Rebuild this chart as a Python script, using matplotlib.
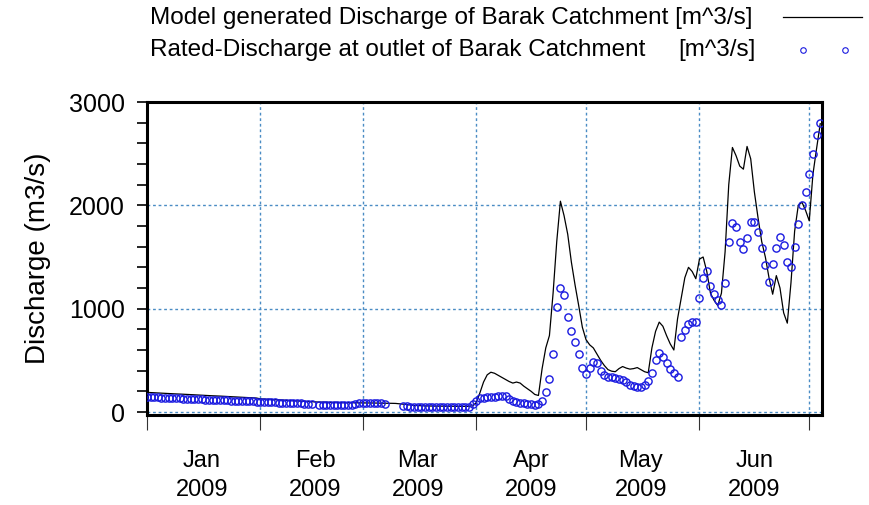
import numpy as np
import matplotlib
matplotlib.use("Agg")
import matplotlib.pyplot as plt
import matplotlib.dates as mdates
from matplotlib.lines import Line2D
from matplotlib.ticker import MultipleLocator

plt.rcParams['font.family'] = ['Liberation Sans', 'DejaVu Sans']

# daily series starting 2009-01-01
start_date = '2009-01-01'

# model generated discharge [m3/s]
model_q = [
    # Jan
    190, 188, 186, 184, 183, 181, 179, 177, 175, 174, 172, 170, 168, 166, 165, 163,
    161, 159, 157, 156, 154, 152, 150, 148, 146, 145, 143, 141, 139, 137, 135,
    # Feb
    127, 125, 123, 121, 119, 117, 115, 113, 111, 109, 107, 105, 103, 101, 99, 97,
    96, 95, 94, 93, 92, 92, 91, 91, 90, 90, 89, 89,
    # Mar
    88, 88, 87, 87, 86, 86, 85, 85, 84, 83, 80, 76, 72, 68, 64, 62,
    60, 59, 58, 58, 57, 57, 56, 56, 56, 55, 55, 55, 55, 55, 60,
    # Apr
    90, 185, 290, 360, 385, 375, 355, 335, 315, 295, 280, 290, 280, 250, 225,
    200, 170, 160, 420, 620, 740, 1150, 1650, 2040, 1900, 1720, 1450, 1230, 1030, 820,
    # May
    700, 650, 620, 560, 500, 450, 410, 395, 390, 420, 440, 425, 415, 420, 430, 410,
    390, 380, 620, 780, 870, 830, 740, 660, 600, 900, 1100, 1300, 1400, 1360, 1290,
    # Jun
    1480, 1500, 1360, 1150, 1080, 1030, 1150, 1550, 2200, 2560, 2480, 2380, 2350, 2570, 2450,
    2130, 1880, 1650, 1500, 1300, 1140, 1320, 1200, 960, 860, 1250, 1750, 2000, 2030, 1950,
    # Jul
    1850, 2300, 2550, 2790,
]

nan = np.nan
# rated discharge at the outlet [m3/s], nan = no reading
rated_q = [
    # Jan
    145, 144, 142, 141, 139, 138, 136, 135, 133, 132, 130, 129, 127, 126, 124, 123,
    121, 120, 118, 117, 115, 114, 112, 111, 109, 108, 106, 105, 103, 102, 100,
    # Feb
    98, 97, 96, 94, 93, 92, 90, 89, 88, 86, 85, 84, 82, 80, 78, nan,
    70, 70, 69, 69, 68, 68, 68, 67, 67, 72, 82, 85,
    # Mar
    86, 86, 85, 85, 84, 83, 82, nan, nan, nan, nan,
    55, 54, 53, 52, 52, 51, 50, 50, 49, 48, 48, 47, 47, 46, 46, 45, 45, 46, 50, 75,
    # Apr
    110, 136, 140, 145, 148, 150, 152, 155, 155, 125, 110, 100, 90, 85, 80,
    75, 70, 80, 110, 190, 320, 560, 1020, 1200, 1130, 920, 780, 680, 560, 430,
    # May
    365, 430, 485, 470, 400, 360, 340, 335, 330, 320, 310, 290, 265, 255, 245, 243,
    265, 300, 380, 505, 573, 530, 470, 420, 375, 340, 730, 796, 850, 874, 874,
    # Jun
    1100, 1300, 1360, 1220, 1140, 1080, 1040, 1250, 1650, 1830, 1790, 1650, 1575, 1680, 1840,
    1835, 1740, 1590, 1420, 1260, 1430, 1590, 1690, 1620, 1450, 1400, 1600, 1820, 2000, 2130,
    # Jul
    2300, 2500, 2680, 2800,
]

model_dates = np.datetime64(start_date) + np.arange(len(model_q))
rated_dates = np.datetime64(start_date) + np.arange(len(rated_q))

fig = plt.figure(figsize=(8.69, 5.05), dpi=100)
ax = fig.add_axes([0.169, 0.178, 0.777, 0.620])

grid_col = '#4a8cc4'
ax.grid(True, which='major', color=grid_col, linestyle=(0, (2, 2)), linewidth=1.0, zorder=0)

obs_col = '#1a1ae0'
ax.plot(model_dates, model_q, color='black', linewidth=0.9, zorder=3)
ax.plot(rated_dates, rated_q, linestyle='none', marker='o', markersize=5.2,
        markerfacecolor='none', markeredgecolor=obs_col, markeredgewidth=1.0, zorder=4)

ax.set_xlim(np.datetime64('2009-01-01T00'), np.datetime64('2009-07-04T12'))
ax.set_ylim(-30, 3000)

# month boundaries get tick marks, month names sit mid-month
ax.xaxis.set_major_locator(mdates.MonthLocator())
ax.xaxis.set_major_formatter(plt.NullFormatter())
ax.xaxis.set_minor_locator(mdates.MonthLocator(bymonthday=16))
ax.xaxis.set_minor_formatter(mdates.DateFormatter('%b\n%Y'))
ax.tick_params(axis='x', which='major', length=11, width=0.8, color='#333333', direction='out')
ax.tick_params(axis='x', which='minor', length=0, pad=25, labelsize=17)
for lab in ax.xaxis.get_minorticklabels():
    lab.set_linespacing(1.45)

ax.yaxis.set_major_locator(MultipleLocator(1000))
ax.yaxis.set_minor_locator(MultipleLocator(200))
ax.tick_params(axis='y', which='both', length=7, width=1.2, direction='out', pad=9, labelsize=18)

for sp in ax.spines.values():
    sp.set_linewidth(2.2)

ax.set_ylabel('Discharge (m3/s)', fontsize=20, labelpad=13)

# legend block above the plot
fig.text(0.1726, 0.9644, 'Model generated Discharge of Barak Catchment [m^3/s]',
         fontsize=17.5, ha='left', va='center')
fig.text(0.1726, 0.901, 'Rated-Discharge at outlet of Barak Catchment',
         fontsize=17.5, ha='left', va='center')
fig.text(0.870, 0.901, '[m^3/s]', fontsize=17.5, ha='right', va='center')
fig.add_artist(Line2D([0.901, 0.992], [0.966, 0.966], color='black', linewidth=0.9))
fig.add_artist(Line2D([0.924, 0.972], [0.901, 0.901], linestyle='none', marker='o', markersize=4,
                      markerfacecolor='none', markeredgecolor=obs_col, markeredgewidth=0.8))

fig.savefig('out.png', dpi=100)
